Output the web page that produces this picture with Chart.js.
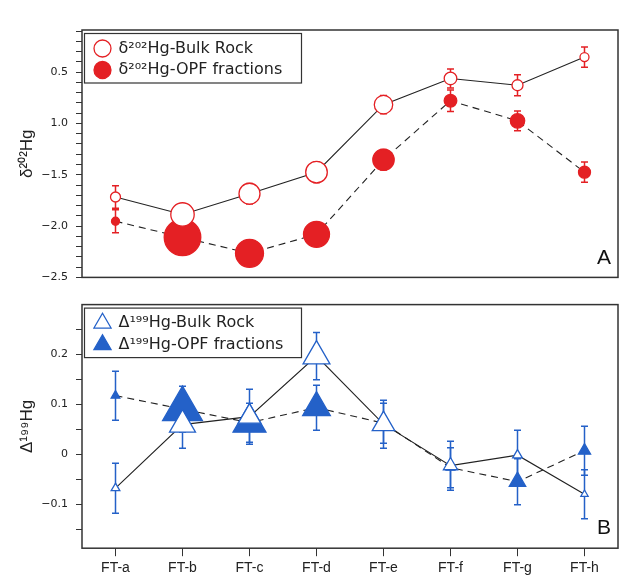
<!DOCTYPE html>
<html>
<head>
<meta charset="utf-8">
<script src="https://cdn.jsdelivr.net/npm/chart.js@4.4.1/dist/chart.umd.min.js"></script>
<style>
  html, body { margin: 0; padding: 0; background: #fff; }
  body { width: 637px; height: 587px; position: relative; overflow: hidden; }
  .panel { position: absolute; left: 0; width: 637px; }
  #wrapA { top: 0; height: 292px; }
  #wrapB { top: 290px; height: 297px; }
</style>
</head>
<body>
<div class="panel" id="wrapA"><canvas id="chartA"></canvas></div>
<div class="panel" id="wrapB"><canvas id="chartB"></canvas></div>
<script>
// samples
const samples = ['FT-a', 'FT-b', 'FT-c', 'FT-d', 'FT-e', 'FT-f', 'FT-g', 'FT-h'];

// δ202Hg (panel A)
const d202Bulk    = [-1.717, -1.887, -1.685, -1.475, -0.817, -0.562, -0.628, -0.354];
const d202BulkErr = [0.109, 0.10, 0.10, 0.10, 0.09, 0.093, 0.103, 0.098];
const d202Opf     = [-1.953, -2.11, -2.265, -2.08, -1.354, -0.779, -0.975, -1.475];
const d202OpfErr  = [0.112, 0.10, 0.10, 0.10, 0.10, 0.104, 0.097, 0.098];
// symbol size
const d202BulkSize = [5, 11.7, 10.5, 10.8, 9.2, 6.3, 5.5, 4.5];
const d202OpfSize  = [4, 18.3, 14, 13, 10.7, 6.3, 7.2, 6];

// Δ199Hg (panel B)
const D199Bulk    = [-0.068, 0.059, 0.075, 0.196, 0.06, -0.023, -0.002, -0.08];
const D199BulkErr = [0.05, 0.047, 0.055, 0.047, 0.048, 0.049, 0.05, 0.049];
const D199Opf     = [0.117, 0.09, 0.063, 0.093, 0.062, -0.027, -0.055, 0.007];
const D199OpfErr  = [0.049, 0.046, 0.039, 0.045, 0.04, 0.04, 0.046, 0.049];
const D199BulkSize = [5, 15, 13, 15.5, 13, 8.2, 5.6, 4.2];
const D199OpfSize  = [5, 23, 19, 16, 5, 5, 9.5, 7];

// axis ticks
const tickValuesA = [-2.5, -2.0, -1.5, -1.0, -0.5];
const tickLabelsA = ['−2.5', '−2.0', '−1.5', '1.0', '0.5'];
const tickValuesB = [-0.1, 0, 0.1, 0.2];
const tickLabelsB = ['−0.1', '0', '0.1', '0.2'];

const RED = '#e42024';
const BLUE = '#2461c8';
const INK = '#222';
const SANS = '"Liberation Sans", Arial, sans-serif';
const WIDE = '"DejaVu Sans", Verdana, sans-serif';

Chart.defaults.font.family = SANS;
Chart.defaults.color = INK;

function labelFor(values, labels) {
  return v => {
    const i = values.findIndex(t => Math.abs(t - v) < 1e-6);
    return i < 0 ? '' : labels[i];
  };
}

const errorBars = {
  id: 'errorBars',
  beforeDatasetsDraw(chart) {
    const ctx = chart.ctx;
    const y = chart.scales.y;
    chart.data.datasets.forEach((ds, di) => {
      if (!ds.errors) return;
      const meta = chart.getDatasetMeta(di);
      ctx.save();
      ctx.strokeStyle = ds.pointBorderColor;
      ctx.lineWidth = 1.5;
      meta.data.forEach((pt, i) => {
        const top = y.getPixelForValue(ds.data[i] + ds.errors[i]);
        const bot = y.getPixelForValue(ds.data[i] - ds.errors[i]);
        ctx.beginPath();
        ctx.moveTo(pt.x, top); ctx.lineTo(pt.x, bot);
        ctx.moveTo(pt.x - 3.5, top); ctx.lineTo(pt.x + 3.5, top);
        ctx.moveTo(pt.x - 3.5, bot); ctx.lineTo(pt.x + 3.5, bot);
        ctx.stroke();
      });
      ctx.restore();
    });
  }
};

const frame = {
  id: 'frame',
  afterLayout(chart) {
    const a = chart.chartArea, lg = chart.legend;
    lg.left = a.left + 7;
    lg.top = a.top + 5;
  },
  afterDraw(chart, args, opts) {
    const {ctx, chartArea: a} = chart;
    ctx.save();
    ctx.strokeStyle = '#333';
    ctx.lineWidth = 1.5;
    ctx.strokeRect(a.left, a.top, a.right - a.left, a.bottom - a.top);
    ctx.lineWidth = 1.2;
    ctx.strokeRect(a.left + 2.5, a.top + 3.5, 217, 49.5);
    ctx.fillStyle = '#111';
    ctx.font = '21px ' + SANS;
    ctx.textAlign = 'right';
    ctx.textBaseline = 'bottom';
    ctx.fillText(opts.letter, a.right - 7, a.bottom - 9);
    ctx.restore();
  }
};

function lineSet(label, data, errors, size, style, color, filled, dashed) {
  return {
    label, data, errors,
    borderColor: INK,
    borderWidth: 1.1,
    borderDash: dashed ? [7, 5] : [],
    tension: 0,
    pointStyle: style,
    pointRadius: size,
    pointHoverRadius: size,
    pointBorderColor: color,
    pointBackgroundColor: filled ? color : '#fff',
    pointBorderWidth: 1.3
  };
}

function panelOptions(o) {
  return {
    responsive: true,
    maintainAspectRatio: false,
    animation: false,
    layout: { padding: o.padding },
    plugins: {
      legend: {
        position: 'chartArea',
        align: 'start',
        labels: {
          usePointStyle: true,
          boxHeight: o.boxHeight,
          padding: 5.5,
          color: INK,
          font: { size: 16, family: WIDE }
        }
      },
      tooltip: { enabled: false },
      frame: { letter: o.letter }
    },
    scales: {
      x: {
        type: 'category',
        offset: true,
        display: o.showX,
        grid: { display: true, drawOnChartArea: false, tickLength: 8, color: '#333' },
        border: { display: false },
        ticks: { padding: 4, font: { size: 14 }, color: INK }
      },
      y: {
        min: o.min, max: o.max,
        afterFit: s => { s.width = 82; },
        title: { display: true, text: o.title, font: { size: 17 }, color: INK, padding: { top: 17, bottom: 0 } },
        grid: { display: true, drawOnChartArea: false, tickLength: 6, color: '#333' },
        border: { display: false },
        ticks: {
          stepSize: o.step,
          autoSkip: false,
          includeBounds: false,
          padding: 8,
          font: { size: 11, family: WIDE },
          color: INK,
          callback: labelFor(o.tickValues, o.tickLabels)
        }
      }
    }
  };
}

new Chart(document.getElementById('chartA'), {
  type: 'line',
  data: {
    labels: samples,
    datasets: [
      lineSet('δ²⁰²Hg-Bulk Rock', d202Bulk, d202BulkErr, d202BulkSize, 'circle', RED, false, false),
      lineSet('δ²⁰²Hg-OPF fractions', d202Opf, d202OpfErr, d202OpfSize, 'circle', RED, true, true)
    ]
  },
  options: panelOptions({
    padding: { top: 30, right: 19, bottom: 4, left: 0 },
    letter: 'A', showX: false, boxHeight: 12,
    min: -2.5, max: -0.09, step: 0.1,
    title: 'δ²⁰²Hg', tickValues: tickValuesA, tickLabels: tickLabelsA
  }),
  plugins: [errorBars, frame]
});

new Chart(document.getElementById('chartB'), {
  type: 'line',
  data: {
    labels: samples,
    datasets: [
      lineSet('Δ¹⁹⁹Hg-Bulk Rock', D199Bulk, D199BulkErr, D199BulkSize, 'triangle', BLUE, false, false),
      lineSet('Δ¹⁹⁹Hg-OPF fractions', D199Opf, D199OpfErr, D199OpfSize, 'triangle', BLUE, true, true)
    ]
  },
  options: panelOptions({
    padding: { top: 3, right: 19, bottom: 6, left: 0 },
    letter: 'B', showX: true, boxHeight: 14,
    min: -0.188, max: 0.299, step: 0.05,
    title: 'Δ¹⁹⁹Hg', tickValues: tickValuesB, tickLabels: tickLabelsB
  }),
  plugins: [errorBars, frame]
});
</script>
</body>
</html>
